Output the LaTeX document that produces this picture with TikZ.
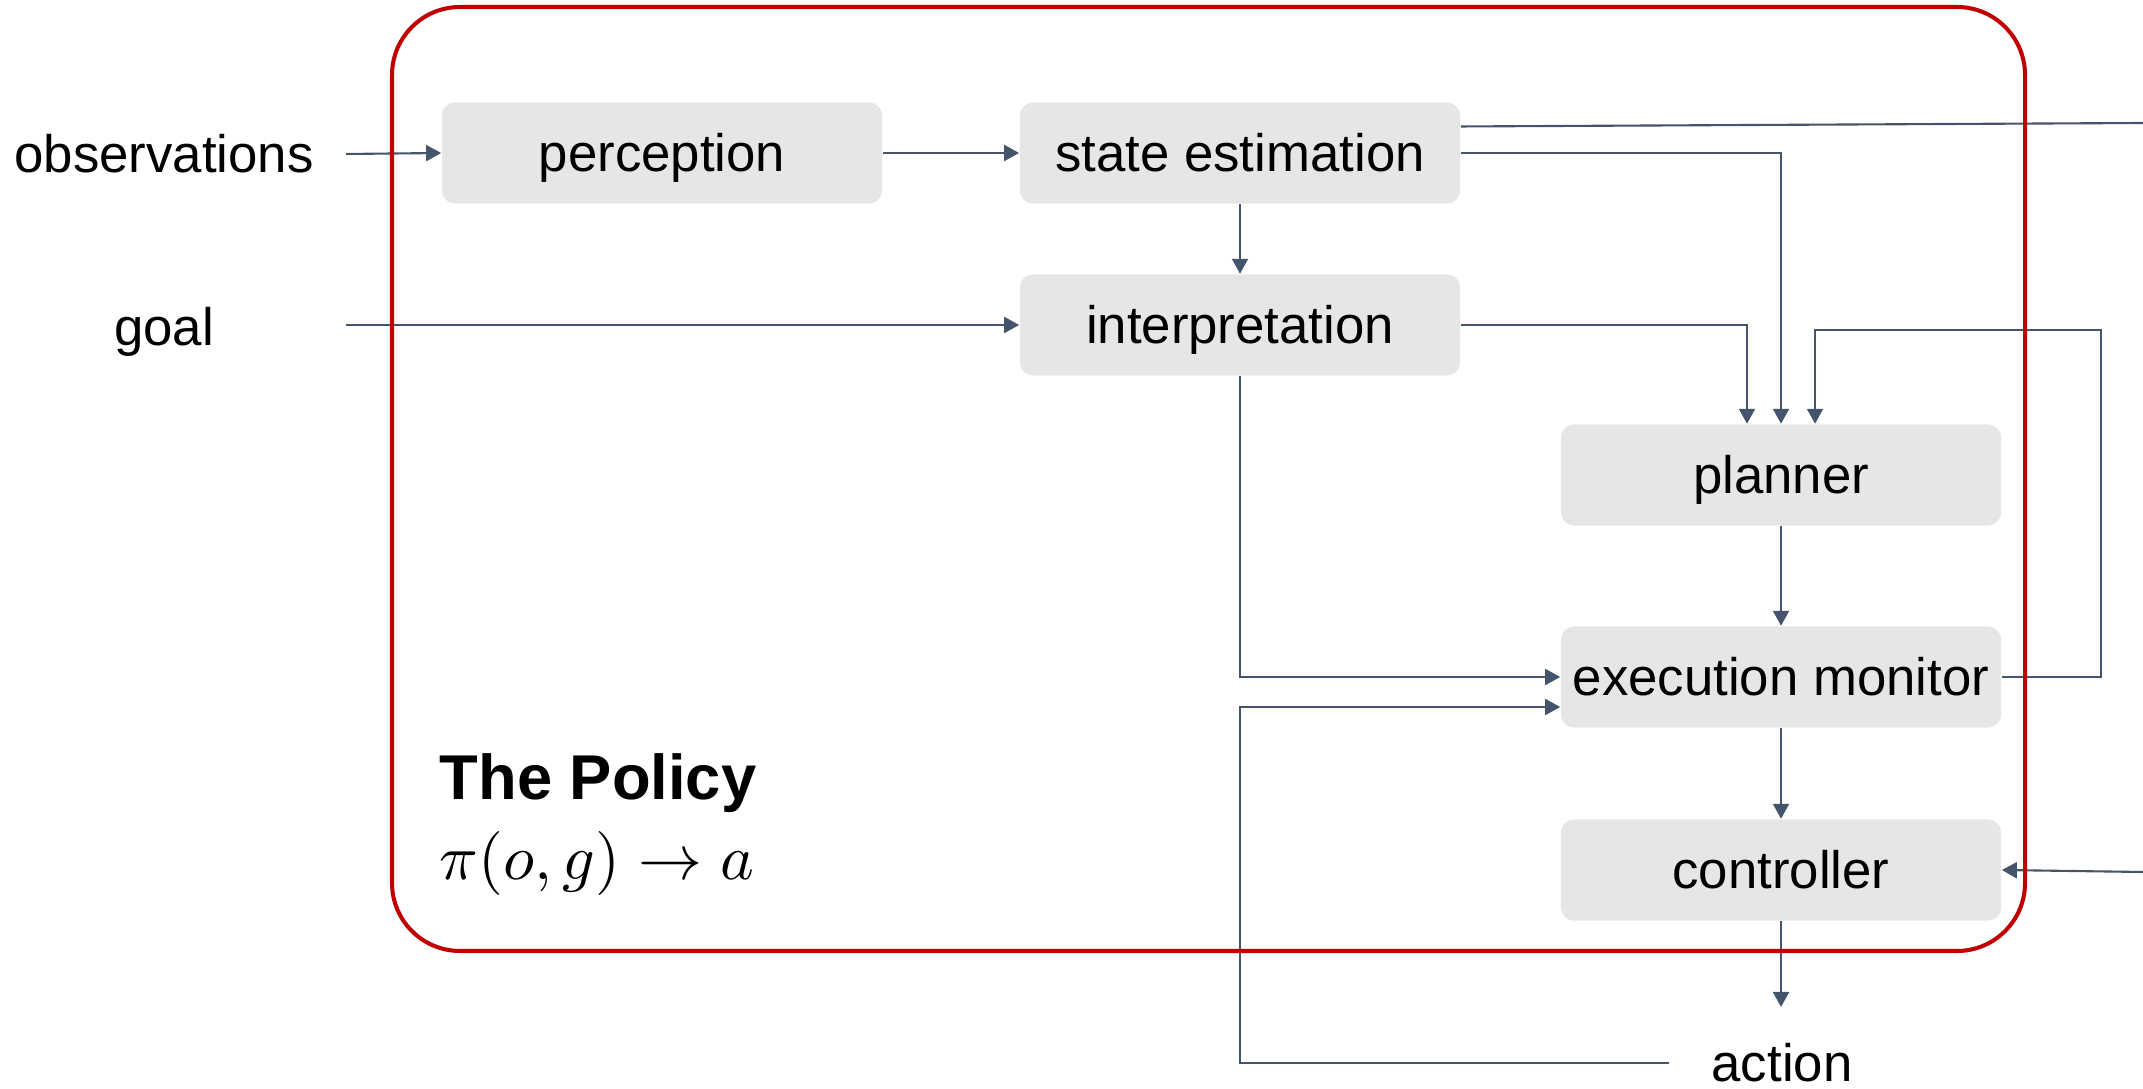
\documentclass[tikz,border=0pt]{standalone}
\usepackage{graphicx}
\usepackage{fontspec}
\setmainfont{Liberation Sans}
\usetikzlibrary{arrows.meta,calc}
\definecolor{boxgray}{HTML}{E7E6E6}
\definecolor{linkcol}{HTML}{44546A}
\definecolor{framered}{HTML}{C00000}
\begin{document}
\begin{tikzpicture}[x=0.01cm,y=-0.01cm,
  stage/.style={fill=boxgray,rounded corners=0.13cm,minimum width=4.4cm,minimum height=1.01cm,
    inner sep=0pt,text height=10.8pt,text depth=0pt,font=\fontsize{15}{18}\selectfont},
  label/.style={inner sep=0pt,text height=10.8pt,text depth=0pt,font=\fontsize{15}{18}\selectfont},
  link/.style={draw=linkcol,line width=0.6pt},
  arr/.style={link,-{Triangle[length=0.15cm,width=0.16cm]}}]
\useasboundingbox (0,0) rectangle (2143,1089);

% processing stages
\node[stage] (perc)   at (662,153)  {perception};
\node[stage] (est)    at (1240,153) {state estimation};
\node[stage] (interp) at (1240,325) {interpretation};
\node[stage] (plan)   at (1781,475) {planner};
\node[stage] (exec)   at (1781,677) {execution monitor};
\node[stage] (ctrl)   at (1781,870) {controller};

% inputs and output
\node[label] (obs)    at (164,154)  {observations};
\node[label] (goal)   at (164,327)  {goal};
\node[label] (action) at (1782,1063) {action};

\coordinate (obsout)  at (346,154);
\coordinate (goalout) at (346,325);
\coordinate (worldout) at (2143,123);
\coordinate (fbk)     at (2101,330);
\coordinate (loopc)   at (1240,707);
\coordinate (acttip)  at (1781,1007);
\coordinate (ctrlin)  at (2143,872);

% connectors
\draw[arr] (obsout) -- (perc.west);
\draw[arr] (goalout) -- (goalout -| interp.west);
\draw[arr] (perc.east) -- (est.west);
\draw[arr] (est.south) -- (interp.north);
\draw[link] ([yshift=0.265cm]est.east) -- (worldout);
\draw[arr] (est.east) -| (plan.north);
\draw[arr] (interp.east) -| ([xshift=-0.34cm]plan.north);
\draw[arr] (exec.east) -| (fbk) -| ([xshift=0.34cm]plan.north);
\draw[arr] (plan.south) -- (exec.north);
\draw[arr] (exec.south) -- (ctrl.north);
\draw[arr] (ctrl.south) -- (acttip);
\draw[arr] (interp.south) |- (exec.west);
\draw[arr] ([xshift=-0.42cm]action.west) -| (loopc) -- (loopc -| exec.west);
\draw[arr] (ctrlin) -- (ctrl.east);

% policy frame and caption
\draw[framered,line width=1.15pt,rounded corners=0.68cm] (392,7) rectangle (2025,951);
\node[inner sep=0pt,anchor=west,font=\fontsize{18}{22}\selectfont\bfseries] (title) at (439,783) {The Policy};
\node[inner sep=0pt,anchor=west] (formula) at (439,864) {\resizebox{3.14cm}{!}{$\pi(o,g)\rightarrow a$}};
\end{tikzpicture}
\end{document}
